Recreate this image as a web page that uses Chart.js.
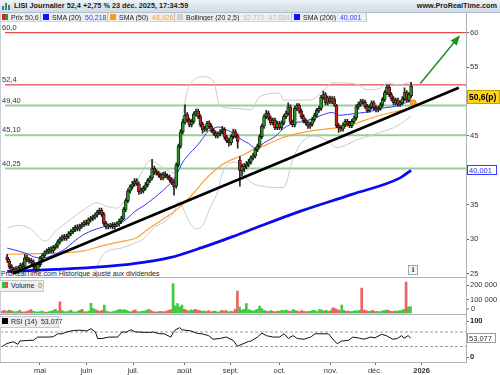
<!DOCTYPE html>
<html><head><meta charset="utf-8">
<script src="https://cdn.jsdelivr.net/npm/chart.js@4.4.1/dist/chart.umd.min.js"></script>
<style>
html,body{margin:0;padding:0;background:#fff}
body{width:500px;height:375px;overflow:hidden;position:relative;font-family:"Liberation Sans",Arial,sans-serif;color:#1a1a1a}
canvas{position:absolute;left:0;z-index:2}
#title{position:absolute;left:0;top:0;width:500px;height:12px;background:linear-gradient(#eef3f7,#d0dbe4);border-bottom:1px solid #b4c0ca;font-size:7.3px;font-weight:bold;line-height:12px;white-space:nowrap;z-index:3}
#title .t{position:absolute;left:14px;top:0}
#title .r{position:absolute;right:3px;top:0}
#title .ic{position:absolute;left:2px;top:2px;width:9px;height:8px}
#title .ic i{position:absolute;bottom:0;width:2px;background:#2b7bd0}
.lb{position:absolute;top:13px;height:9px;background:#eceff2;border-right:1px solid #b8c2cb;border-bottom:1px solid #d0d6dc;font-size:7px;line-height:9px;white-space:nowrap;padding-left:2px;box-sizing:border-box;z-index:3;overflow:hidden}
.sq{display:inline-block;width:6px;height:6px;margin-right:3px;vertical-align:0px}
.pl{position:absolute;left:0;height:10px;background:#eceff2;border:1px solid #c4ccd3;border-left:none;font-size:7px;line-height:10px;white-space:nowrap;padding-left:2px;z-index:3}
.hl{position:absolute;left:0;width:466px;height:1px;background:#a9b3bc;z-index:3}
#vax{position:absolute;left:466px;top:12px;width:1px;height:351px;background:#a9b3bc;z-index:3}
#lax{position:absolute;left:0;top:12px;width:1px;height:351px;background:#c8d0d6;z-index:3}
#note{position:absolute;left:1px;top:270px;font-size:7px;line-height:8px;color:#222;z-index:1;white-space:nowrap}
#info{position:absolute;left:408px;top:265px;width:8px;height:8px;border:1px solid #9aa;background:#f4f4f4;font-size:7px;line-height:8px;text-align:center;color:#445;font-weight:bold;z-index:3;font-family:"DejaVu Serif",serif}
</style></head>
<body>
<div id="title"><span class="ic"><i style="left:0;height:4px"></i><i style="left:3px;height:7px;background:#3a9a3a"></i><i style="left:6px;height:5px"></i></span><span class="t">LISI Journalier 52,4 +2,75 % 23 déc. 2025, 17:34:59</span><span class="r">www.ProRealTime.com</span></div>
<div class="lb" style="left:0;width:41px"><span class="sq" style="background:linear-gradient(90deg,#d42020 50%,#20a020 50%)"></span>Prix <span style="color:#333">50,6</span></div>
<div class="lb" style="left:41px;width:67px"><span class="sq" style="background:#1010ff"></span>SMA (20) &nbsp;<span style="color:#3a3aff">50,218</span></div>
<div class="lb" style="left:108px;width:67px"><span class="sq" style="background:#ff9a1a"></span>SMA (50) &nbsp;<span style="color:#ffa030">48,926</span></div>
<div class="lb" style="left:175px;width:117px"><span class="sq" style="background:#cfcfcf"></span>Bollinger (20 2,5) &nbsp;<span style="color:#bdbdbd">52,771 &nbsp;47,884</span></div>
<div class="lb" style="left:292px;width:75px"><span class="sq" style="background:#1010ff"></span>SMA (200) &nbsp;<span style="color:#3a3aff">40,001</span></div>
<div id="vax"></div><div id="lax"></div>
<div class="hl" style="top:277px"></div>
<div class="hl" style="top:314px"></div>
<div class="hl" style="top:362px"></div>
<div id="note">ProRealTime.com Historique ajusté aux dividendes</div>
<div id="info">i</div>
<div class="pl" style="top:280px;width:41px"><span class="sq" style="background:linear-gradient(90deg,#30c030 50%,#e85050 50%)"></span>Volume &nbsp;<span style="color:#e04040">0</span></div>
<div class="pl" style="top:316px;width:56px"><span class="sq" style="background:#000"></span>RSI (14) &nbsp;<span style="color:#222">53,077</span></div>

<canvas id="cp" width="500" height="282" style="top:0"></canvas>
<canvas id="cv" width="500" height="47" style="top:272px"></canvas>
<canvas id="cr" width="500" height="66" style="top:309px"></canvas>

<script>
// ---------- DATA ----------
const open = [27.4,26.8,26.0,25.3,25.7,25.3,25.8,26.3,26.1,27.4, 27.0,26.9,26.7,26.1,25.6,26.3,27.2,27.6,28.1,28.2, 28.6,28.3,28.8,29.0,29.6,30.0,30.4,30.1,30.4,30.8, 31.1,31.4,31.8,31.5,31.9,32.1,32.5,32.3,32.8,33.0, 33.2,33.5,33.9,34.2,33.6,32.3,31.8,31.9,32.1,31.8, 32.1,32.2,32.6,33.0,34.3,35.6,37.0,37.6,38.0,38.5, 38.0,36.9,37.0,37.4,37.9,38.5,38.9,40.3,39.8,39.6, 39.3,38.9,39.5,39.2,39.0,38.6,38.3,37.7,40.8,43.5, 45.6,47.0,48.1,47.3,46.6,47.1,48.2,48.6,47.8,46.7, 45.9,46.0,46.9,46.4,45.8,45.4,45.0,45.3,45.6,45.9, 44.8,44.3,44.0,44.9,45.6,45.0,41.5,40.0,40.3,40.6, 40.9,41.2,41.8,42.1,43.0,43.5,44.9,46.4,47.8,48.3, 47.6,46.9,47.3,46.2,46.8,46.2,46.9,47.8,48.3,49.2, 47.0,46.6,49.0,49.4,48.6,47.8,47.2,46.9,46.4,46.7, 47.4,48.0,48.7,49.0,50.6,51.0,49.8,50.5,50.0,50.4, 49.4,46.5,46.2,46.0,46.6,47.1,46.8,46.5,47.1,47.6, 49.2,49.6,50.0,49.9,49.3,48.7,49.2,49.8,49.1,48.8, 49.0,49.5,50.3,51.3,52.1,51.0,50.4,49.8,50.2,49.6, 49.8,50.4,51.3,50.2,50.8];
const high = [27.8,27.1,26.3,25.9,26.0,26.1,26.5,26.6,27.8,27.7, 27.3,27.2,27.0,26.4,26.6,27.5,27.9,28.3,28.6,28.8, 28.9,29.1,29.3,29.9,30.3,30.6,30.7,30.7,31.1,31.4, 31.7,32.0,32.1,32.2,32.4,32.7,32.8,33.1,33.3,33.5, 33.8,34.2,34.5,34.5,33.9,32.6,32.2,32.3,32.4,32.4, 32.5,32.9,33.3,34.6,35.9,37.3,37.9,38.4,38.8,38.8, 38.3,37.4,37.7,38.2,38.8,39.2,41.6,40.6,40.1,39.9, 39.6,39.7,39.8,39.5,39.3,38.9,38.6,41.1,43.8,45.9, 47.4,49.5,48.4,47.6,47.4,48.5,48.9,48.9,48.1,47.0, 46.4,47.1,47.2,46.7,46.1,45.7,45.6,45.9,46.4,46.2, 45.1,44.6,45.2,46.0,45.9,45.3,42.0,40.9,41.0,41.3, 41.6,42.1,42.5,43.3,43.8,45.2,46.7,48.1,48.7,48.6, 47.9,47.6,47.6,47.1,47.1,47.2,48.1,48.6,49.8,49.5, 47.3,49.3,49.7,49.7,48.9,48.1,47.5,47.2,47.0,47.7, 48.3,49.0,49.3,50.9,51.5,51.3,50.8,50.8,50.7,50.7, 49.6,46.8,46.5,46.9,47.4,47.4,47.1,47.4,47.9,49.5, 49.9,50.3,50.3,50.2,49.6,49.5,50.1,50.1,49.4,49.3, 49.8,50.6,51.6,52.4,52.4,51.3,50.7,50.5,50.5,50.1, 50.7,52.0,51.6,51.3,52.8];
const low = [26.6,25.7,25.1,25.0,25.0,25.1,25.5,25.7,25.9,26.7, 26.5,26.3,25.7,25.2,25.3,26.0,26.9,27.3,27.8,27.9, 28.0,28.0,28.5,28.7,29.3,29.7,29.8,29.8,30.1,30.5, 30.8,31.1,31.2,31.2,31.6,31.8,32.0,32.0,32.5,32.7, 32.9,33.2,33.6,33.3,32.0,31.5,31.5,31.6,31.5,31.5, 31.8,31.9,32.3,32.8,34.0,35.3,36.7,37.3,37.7,37.8, 36.5,36.6,36.7,37.1,37.6,38.2,38.6,39.4,39.3,39.0, 38.6,38.6,38.9,38.7,38.3,37.9,36.4,37.4,40.5,43.2, 45.3,46.7,47.0,46.3,46.3,46.8,47.9,47.5,46.3,45.4, 45.6,45.7,46.1,45.5,45.1,44.7,44.7,45.0,45.3,44.5, 44.0,43.5,43.7,44.6,44.7,43.2,37.7,39.2,39.8,40.2, 40.5,40.9,41.5,41.8,42.7,43.2,44.6,46.1,47.5,47.3, 46.6,46.6,45.9,45.9,45.9,45.9,46.6,47.5,48.0,46.7, 46.3,46.3,48.7,48.3,47.5,46.9,46.6,46.1,46.1,46.4, 47.1,47.7,48.4,48.7,50.3,49.5,49.5,49.7,49.7,49.3, 46.2,45.5,45.7,45.7,46.3,46.5,46.2,46.2,46.8,47.3, 48.9,49.3,49.6,49.0,48.4,48.4,48.9,48.8,48.5,48.5, 48.7,49.2,50.0,51.0,50.7,50.1,49.5,49.5,49.3,49.3, 49.5,50.1,49.9,49.9,50.5];
const close = [27.0,26.0,25.4,25.6,25.3,25.8,26.2,26.0,27.3,27.0, 26.8,26.6,26.0,25.6,26.3,27.2,27.6,28.0,28.3,28.5, 28.3,28.8,29.0,29.6,30.0,30.3,30.1,30.4,30.8,31.1, 31.4,31.7,31.5,31.9,32.1,32.4,32.3,32.8,33.0,33.2, 33.5,33.9,34.2,33.6,32.3,31.8,31.9,32.0,31.8,32.1, 32.2,32.6,33.0,34.3,35.6,37.0,37.6,38.0,38.4,38.1, 36.9,37.0,37.4,37.9,38.5,38.9,40.2,39.7,39.6,39.3, 38.9,39.4,39.2,39.0,38.6,38.2,37.6,40.8,43.5,45.6, 47.0,48.0,47.3,46.6,47.1,48.2,48.6,47.8,46.6,45.9, 46.0,46.8,46.4,45.8,45.4,45.0,45.3,45.6,45.9,44.8, 44.3,44.0,44.9,45.6,45.0,44.2,40.0,40.6,40.6,40.9, 41.2,41.8,42.1,43.0,43.5,44.9,46.4,47.8,48.3,47.6, 46.9,47.3,46.2,46.8,46.2,46.9,47.8,48.3,49.2,47.0, 46.6,49.0,49.4,48.6,47.8,47.2,46.9,46.4,46.7,47.4, 48.0,48.7,49.0,50.6,51.0,49.8,50.5,50.0,50.4,49.6, 46.5,46.2,46.0,46.6,47.1,46.8,46.5,47.1,47.6,49.2, 49.6,50.0,49.9,49.3,48.7,49.2,49.8,49.1,48.8,49.0, 49.5,50.3,51.3,52.1,51.0,50.4,49.8,50.2,49.6,49.8, 50.4,51.3,50.2,51.0,52.2];
// volume, in thousands of shares
const volume = [18,22,15,25,20,14,12,16,24,10, 12,14,20,28,15,12,10,14,18,11, 9,13,16,22,30,18,83,20,14,12, 18,25,12,10,15,22,30,14,12,18, 72,35,28,20,15,22,60,18,12,10, 14,18,25,30,24,28,22,16,12,20, 26,14,12,18,15,22,30,20,14,10, 12,16,14,11,18,22,28,212,55,70, 48,60,30,24,18,26,22,30,25,20, 16,18,14,20,12,15,18,10,14,22, 18,20,12,16,14,30,160,45,25,30, 70,28,22,18,25,30,53,35,20,18, 14,20,16,12,18,15,22,20,24,18, 16,28,22,18,14,20,15,12,16,18, 22,20,14,30,25,18,22,15,20,40, 35,28,20,60,22,15,18,14,16,20, 18,22,181,25,20,15,18,22,14,16, 12,18,20,25,22,16,14,18,15,20, 22,30,223,48,50];
// indicator lines, sampled at trading-day indices
const sma20Idx = [0,8,14,17,21,26,31,35,40,44,49,53,56,58,62,67,71,74,77,80,83,86,89,91,94,96,99,103,107,110,113,117,122,126,131,135,140,144,148,151,155,160,166,170,175,179,184];
const sma20Val = [28.7,28.0,27.3,27.3,27.7,28.5,29.8,30.7,31.4,31.8,32.1,32.6,33.4,34.0,34.8,36.0,37.1,38.0,39.3,41.2,42.4,43.4,44.6,45.5,46.1,46.3,46.0,45.4,44.4,43.9,43.2,44.0,44.9,46.1,46.9,47.1,47.6,48.1,48.4,48.0,48.1,48.3,48.6,49.0,49.2,49.5,50.2];
const sma50Idx = [0,14,26,35,44,53,59,64,71,78,85,90,97,104,108,112,118,125,133,140,148,155,163,170,178,184];
const sma50Val = [27.8,27.9,28.0,28.3,29.1,29.7,30.2,31.4,32.9,34.5,36.7,38.6,40.6,41.8,42.3,43.0,43.7,44.7,45.4,45.8,46.1,46.4,47.3,48.0,48.6,49.0];
const sma200Idx = [0,22,44,57,74,89,103,112,134,157,179,184];
const sma200Val = [25.3,25.6,26.0,26.4,27.3,28.8,30.4,31.5,34.1,36.5,38.9,40.0];
const bbUpIdx = [0,5,11,14,17,23,29,35,41,45,50,52,57,62,65,69,73,76,78,80,82,84,89,94,97,104,111,115,124,126,133,138,142,146,148,153,160,164,170,173,178,184];
const bbUpVal = [31.6,32.0,31.4,30.4,29.7,31.4,32.9,34.3,35.3,34.8,34.5,35.0,37.2,40.1,41.4,40.8,40.0,39.6,42.0,48.0,51.5,52.8,53.6,52.9,49.3,49.0,48.8,50.7,51.2,50.2,50.2,50.2,51.0,52.2,52.7,52.7,52.4,51.7,51.9,52.7,52.4,52.8];
const bbLoIdx = [0,10,20,30,38,44,52,58,62,67,72,76,78,80,83,86,89,93,96,98,104,110,116,126,130,134,140,146,150,160,170,178,184];
const bbLoVal = [23.8,23.0,23.2,23.6,24.4,27.9,28.7,29.4,30.0,31.7,32.6,34.0,35.5,34.5,32.5,31.5,32.0,35.0,37.0,39.6,41.2,38.5,37.7,37.5,41.5,44.0,45.0,44.3,43.3,44.5,45.5,46.5,47.9];
const rsiIdx = [0,2,5,7,8,12,14,16,19,21,23,25,27,29,32,35,38,40,42,43,45,48,52,54,56,58,60,62,64,67,68,71,73,76,77,78,80,81,85,88,90,93,95,98,101,104,106,108,111,112,115,117,119,122,125,127,129,131,133,136,139,141,144,147,150,151,153,156,158,161,163,166,168,171,173,176,178,180,181,183,184];
const rsiVal = [30,38,43,36,45,47,47,56,56,56,57,65,65,70,74,75,73,79,70,52,52,56,56,70,70,76,70,70,69,69,70,65,65,56,68,76,82,76,73,66,65,60,50,52,56,47,31,36,44,44.5,56,67,60,56,56,65,52,60,52,50,56,65,65,65,43,38,45,47,56,53,50,56,54,63.6,60,50,52,60,53,60,53.1];
// horizontal levels drawn by the analyst
const levels = [60, 52.4, 49.4, 45.1, 40.25];
const levelLabels = ['60,0','52,4','49,40','45,10','40,25'];
const levelColors = ['#e84a4a','#e84a4a','#98cf98','#98cf98','#98cf98'];
// drawn trend line and target arrow (day index, price)
const trendIdx = [2.6, 205.7], trendVal = [25.0, 52.0];
const arrowIdx = [188.2, 205.7], arrowVal = [52.6, 59.4];
const markerIdx = [185], markerVal = [49.8];
// axis ticks
const monthTickIdx = [17,38,59,82,103,125,148,168,189];
const monthTickLabels = ['mai','juin','juil.','août','sept.','oct.','nov.','déc.','2026'];
const priceTicks = [25,30,35,40,45,50,55,60];
const volumeTicks = [100,200];
const rsiTicks = [0,100];
const rsiBands = [30,70];
const lastPriceTag = 50.6, sma200Tag = 40.001, rsiTag = 53.077;

// ---------- CHARTS ----------
const FONT = '"Liberation Sans", Arial, sans-serif';
const AX = 7.5;
const XMIN = -1, XMAX = 209;
const days = close.map((_, i) => i);
const pts = (xs, ys) => xs.map((x, k) => ({x, y: ys[k]}));
const up = days.map(i => close[i] >= open[i]);

const baseOpts = (pad) => ({
  responsive:false, animation:false, events:[],
  layout:{padding:pad},
  plugins:{legend:{display:false}, tooltip:{enabled:false}}
});
const yFit = s => { s.width = 34; };
const hline = (val, color, width, dash, order) => ({
  type:'line', data:[{x:XMIN,y:val},{x:XMAX,y:val}], borderColor:color, borderWidth:width,
  borderDash:dash||[], pointRadius:0, order, clip:0
});
const lineDs = (xs, ys, color, width, order) => ({
  type:'line', data:pts(xs, ys), borderColor:color, borderWidth:width, pointRadius:0,
  cubicInterpolationMode:'monotone', order, clip:0
});

function drawTag(ctx, x, yc, w, h, text, fill, stroke, color, font) {
  ctx.fillStyle = fill; ctx.strokeStyle = stroke; ctx.lineWidth = 1;
  ctx.fillRect(x, Math.round(yc - h/2), w, h);
  ctx.strokeRect(x + 0.5, Math.round(yc - h/2) + 0.5, w - 1, h - 1);
  ctx.fillStyle = color; ctx.font = font; ctx.textAlign = 'left'; ctx.textBaseline = 'middle';
  ctx.fillText(text, x + 2, yc + 0.5);
}

const priceDeco = {
  id:'priceDeco',
  afterDatasetsDraw(chart){
    const {ctx, scales:{x, y}} = chart;
    ctx.save();
    ctx.font = AX + 'px ' + FONT; ctx.fillStyle = '#333'; ctx.textAlign = 'left'; ctx.textBaseline = 'bottom';
    levels.forEach((v, k) => ctx.fillText(levelLabels[k], 2, Math.round(y.getPixelForValue(v)) - 1));
    const x1 = x.getPixelForValue(arrowIdx[0]), y1 = y.getPixelForValue(arrowVal[0]);
    const x2 = x.getPixelForValue(arrowIdx[1]), y2 = y.getPixelForValue(arrowVal[1]);
    const a = Math.atan2(y2 - y1, x2 - x1), L = 8, W = 4;
    ctx.fillStyle = '#1f8f1f';
    ctx.beginPath(); ctx.moveTo(x2 + 2*Math.cos(a), y2 + 2*Math.sin(a));
    ctx.lineTo(x2 - L*Math.cos(a) + W*Math.sin(a), y2 - L*Math.sin(a) - W*Math.cos(a));
    ctx.lineTo(x2 - L*Math.cos(a) - W*Math.sin(a), y2 - L*Math.sin(a) + W*Math.cos(a));
    ctx.closePath(); ctx.fill();
    ctx.restore();
  },
  afterDraw(chart){
    const {ctx, scales:{y}} = chart;
    ctx.save();
    drawTag(ctx, 467, y.getPixelForValue(lastPriceTag), 33, 14, '50,6(p)', '#ffd21e', '#c8a000', '#000', 'bold 8.5px ' + FONT);
    drawTag(ctx, 467, y.getPixelForValue(sma200Tag), 30, 10, '40,001', '#fff', '#3a3aff', '#2a2aff', '7.5px ' + FONT);
    ctx.restore();
  }
};

new Chart(document.getElementById('cp'), {
  type:'bar',
  data:{datasets:[
    lineDs(trendIdx, trendVal, '#000', 2.6, 0),
    {...lineDs(arrowIdx, arrowVal, '#1f8f1f', 1.5, 0), cubicInterpolationMode:'default'},
    {type:'scatter', data:pts(markerIdx, markerVal), backgroundColor:'#ffa820', borderColor:'#f09000', pointRadius:3, order:0, clip:0},
    {type:'bar', data:days.map(i => ({x:i, y:[open[i], close[i]]})), grouped:false, barThickness:3,
      backgroundColor:days.map(i => up[i] ? '#1d9a1d' : '#cc1e1e'), borderColor:'#111', borderWidth:0.8, borderSkipped:false, order:1},
    {type:'bar', data:days.map(i => ({x:i, y:[low[i], high[i]]})), grouped:false, barThickness:1,
      backgroundColor:'#222', order:2},
    lineDs(sma20Idx, sma20Val, '#3535ff', 1, 3),
    lineDs(sma50Idx, sma50Val, '#ffa030', 1.2, 3),
    lineDs(sma200Idx, sma200Val, '#0a0af0', 2.8, 3),
    lineDs(bbUpIdx, bbUpVal, '#cacaca', 1, 4),
    lineDs(bbLoIdx, bbLoVal, '#cacaca', 1, 4),
    ...levels.map((v, k) => hline(v, levelColors[k], k < 2 ? 1.3 : 2, null, 5))
  ]},
  options:{...baseOpts({top:20, bottom:5, left:0, right:0}),
    scales:{
      x:{type:'linear', min:XMIN, max:XMAX, offset:false, display:false},
      y:{position:'right', min:24.57, max:61.84, afterFit:yFit,
        afterBuildTicks:s => { s.ticks = priceTicks.map(v => ({value:v})); },
        grid:{drawOnChartArea:false, drawTicks:true, tickLength:3, color:'#666'},
        border:{display:false},
        ticks:{padding:1, color:'#333', font:{size:AX, family:FONT}, callback:v => String(v)}}
    }},
  plugins:[priceDeco]
});

const volDeco = {
  id:'volDeco',
  afterDraw(chart){
    const {ctx, chartArea} = chart;
    ctx.save(); ctx.font = AX + 'px ' + FONT; ctx.fillStyle = '#333'; ctx.textBaseline = 'middle'; ctx.textAlign = 'left';
    ctx.fillText('0', 471, chartArea.bottom - 4.5);
    ctx.strokeStyle = '#666'; ctx.beginPath(); ctx.moveTo(466, chartArea.bottom - 4.5); ctx.lineTo(469, chartArea.bottom - 4.5); ctx.stroke();
    ctx.restore();
  }
};
new Chart(document.getElementById('cv'), {
  type:'bar',
  data:{datasets:[
    {data:days.map(i => ({x:i, y:volume[i]})), barThickness:2, grouped:false,
      backgroundColor:days.map(i => up[i] ? '#3fca3f' : '#ec6262')}
  ]},
  options:{...baseOpts({top:5, bottom:5, left:0, right:0}),
    scales:{
      x:{type:'linear', min:XMIN, max:XMAX, offset:false, display:false},
      y:{position:'right', min:0, max:256, afterFit:yFit,
        afterBuildTicks:s => { s.ticks = volumeTicks.map(v => ({value:v})); },
        grid:{drawOnChartArea:false, drawTicks:true, tickLength:3, color:'#666'},
        border:{display:false},
        ticks:{padding:1, color:'#333', font:{size:AX, family:FONT}, callback:v => v + ' 000'}}
    }},
  plugins:[volDeco]
});

const rsiDeco = {
  id:'rsiDeco',
  afterDraw(chart){
    const {ctx, scales:{y}} = chart;
    ctx.save();
    drawTag(ctx, 467, y.getPixelForValue(rsiTag), 29, 10, '53,077', '#fff', '#9a9a9a', '#333', '7.5px ' + FONT);
    ctx.restore();
  }
};
new Chart(document.getElementById('cr'), {
  type:'line',
  data:{datasets:[
    {data:pts(rsiIdx, rsiVal), borderColor:'#111', borderWidth:1, pointRadius:0, clip:0},
    ...rsiBands.map(v => hline(v, '#9a9a9a', 1, [3,2], 2))
  ]},
  options:{...baseOpts({top:5, bottom:0, left:0, right:0}),
    scales:{
      x:{type:'linear', min:XMIN, max:XMAX, offset:false, afterFit:s => { s.height = 13; },
        afterBuildTicks:s => { s.ticks = monthTickIdx.map(v => ({value:v})); },
        grid:{drawOnChartArea:false, drawTicks:true, tickLength:3, color:'#666'},
        border:{display:false},
        ticks:{padding:1, maxRotation:0, autoSkip:false, color:'#333',
          font:c => ({size:AX, family:FONT, weight: c.tick && c.tick.value === 189 ? 'bold' : 'normal'}),
          callback:v => monthTickLabels[monthTickIdx.indexOf(v)]}},
      y:{position:'right', min:-12.8, max:118.3, afterFit:yFit,
        afterBuildTicks:s => { s.ticks = rsiTicks.map(v => ({value:v})); },
        grid:{drawOnChartArea:false, drawTicks:true, tickLength:3, color:'#666'},
        border:{display:false},
        ticks:{padding:1, color:'#222', font:{size:AX, family:FONT, weight:'bold'}, callback:v => String(v)}}
    }},
  plugins:[rsiDeco]
});
</script>
</body></html>
